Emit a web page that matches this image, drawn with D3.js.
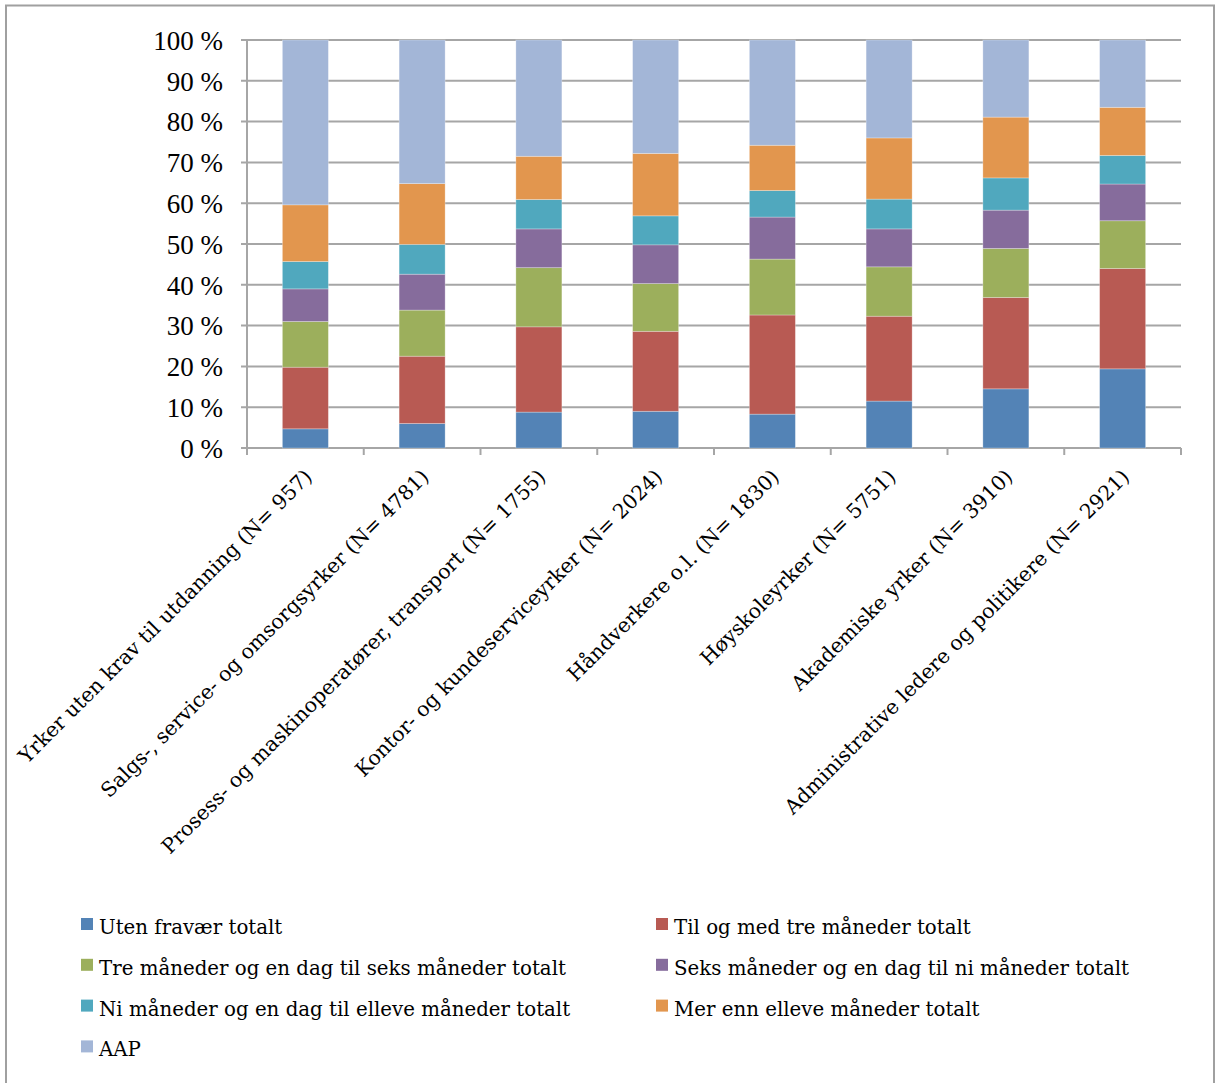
<!DOCTYPE html>
<html><head><meta charset="utf-8">
<script src="https://cdn.jsdelivr.net/npm/d3@7"></script>
<style>body{margin:0;background:#fff}svg{display:block}text{font-family:"DejaVu Serif",serif;fill:#000}</style>
</head><body>
<svg id="c" width="1215" height="1083"></svg>
<script>
const categories = ["Yrker uten krav til utdanning (N= 957)","Salgs-, service- og omsorgsyrker (N= 4781)","Prosess- og maskinoperatører, transport (N= 1755)","Kontor- og kundeserviceyrker (N= 2024)","Håndverkere o.l. (N= 1830)","Høyskoleyrker (N= 5751)","Akademiske yrker (N= 3910)","Administrative ledere og politikere (N= 2921)"];
const seriesNames = ["Uten fravær totalt","Til og med tre måneder totalt","Tre måneder og en dag til seks måneder totalt","Seks måneder og en dag til ni måneder totalt","Ni måneder og en dag til elleve måneder totalt","Mer enn elleve måneder totalt","AAP"];
const utenFravaer = [4.7, 6.0, 8.8, 9.0, 8.3, 11.5, 14.5, 19.4];
const tilTreMnd   = [15.1, 16.5, 20.9, 19.6, 24.3, 20.8, 22.4, 24.6];
const treTilSeks  = [11.2, 11.3, 14.5, 11.7, 13.7, 12.1, 12.0, 11.7];
const seksTilNi   = [8.0, 8.8, 9.5, 9.5, 10.3, 9.3, 9.4, 9.0];
const niTilElleve = [6.7, 7.3, 7.2, 7.1, 6.5, 7.3, 7.9, 7.0];
const merEnnElleve= [13.9, 14.9, 10.6, 15.3, 11.1, 15.0, 14.9, 11.8];
const aap         = [40.4, 35.2, 28.5, 27.8, 25.8, 24.0, 18.9, 16.5];
const yTicks = [0,10,20,30,40,50,60,70,80,90,100];
const colors = ["#5383b6","#b85a53","#9caf5c","#866c9c","#50a8be","#e2964e","#a3b6d7"];

const seriesValues = [utenFravaer,tilTreMnd,treTilSeks,seksTilNi,niTilElleve,merEnnElleve,aap];
const rows = categories.map((c,i)=>{const r={cat:c}; seriesNames.forEach((s,j)=>r[s]=seriesValues[j][i]); return r;});
const stack = d3.stack().keys(seriesNames).offset(d3.stackOffsetExpand)(rows);

const svg = d3.select("#c");
svg.append("rect").attr("x",6).attr("y",5.5).attr("width",1208).attr("height",1090)
  .attr("fill","#fff").attr("stroke","#a0a0a0").attr("stroke-width",2);

const L=247,R=1181,T=40,B=448;
const x = d3.scaleBand().domain(categories).range([L,R]).padding(0);
const y = d3.scaleLinear().domain([0,1]).range([B,T]);
const barW = 46;

svg.append("g").selectAll("line").data(yTicks).join("line")
  .attr("x1",L-6).attr("x2",R).attr("y1",d=>y(d/100)).attr("y2",d=>y(d/100))
  .attr("stroke","#a6a6a6").attr("stroke-width",2);
svg.append("line").attr("x1",L).attr("x2",L).attr("y1",T).attr("y2",B).attr("stroke","#a6a6a6").attr("stroke-width",2);
const bounds = categories.map(c=>x(c)).concat([R]);
svg.append("g").selectAll("line").data(bounds).join("line")
  .attr("x1",d=>d).attr("x2",d=>d).attr("y1",B).attr("y2",B+7).attr("stroke","#a6a6a6").attr("stroke-width",2);

svg.append("g").selectAll("g").data(stack).join("g").attr("fill",(d,i)=>colors[i])
  .selectAll("rect").data(d=>d).join("rect")
  .attr("x",d=>x(d.data.cat)+x.bandwidth()/2-barW/2).attr("width",barW)
  .attr("y",d=>y(d[1])).attr("height",d=>y(d[0])-y(d[1]))
  .attr("stroke","rgba(255,255,255,0.35)").attr("stroke-width",0.8);

svg.append("g").selectAll("text").data(yTicks).join("text")
  .attr("x",223).attr("y",d=>y(d/100)).attr("dy","0.36em").attr("text-anchor","end")
  .style("font-family","'Liberation Serif',serif").style("font-size","27px").text(d=>d+" %");

svg.append("g").selectAll("text").data(categories).join("text")
  .attr("text-anchor","end").style("font-size","20.4px")
  .attr("transform",d=>`translate(${x(d)+x.bandwidth()/2+8},${B+30}) rotate(-45)`)
  .text(d=>d);

const lg = svg.append("g");
seriesNames.forEach((s,i)=>{
  const col=i%2, row=Math.floor(i/2);
  const lx = col===0?81:656, ly = 918+row*40.8;
  lg.append("rect").attr("x",lx).attr("y",ly).attr("width",12).attr("height",12).attr("fill",colors[i]);
  lg.append("text").attr("x",lx+18).attr("y",ly+16).style("font-size","19.8px").text(s);
});
</script>
</body></html>
